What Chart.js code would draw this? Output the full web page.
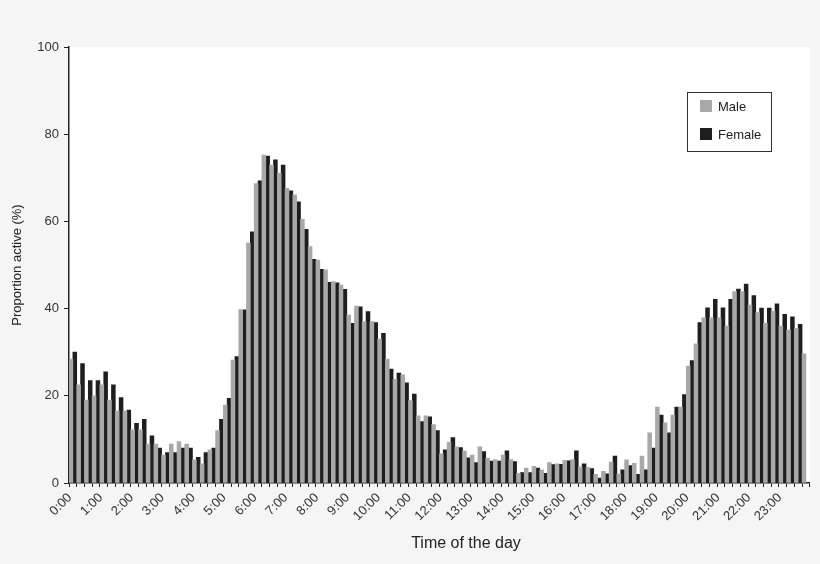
<!DOCTYPE html>
<html>
<head>
<meta charset="utf-8">
<script src="https://cdn.jsdelivr.net/npm/chart.js@4.4.1/dist/chart.umd.min.js"></script>
<style>
  html, body { margin: 0; padding: 0; background: #f5f5f5; }
  canvas { display: block; }
</style>
</head>
<body>
<canvas id="chart" width="820" height="564"></canvas>
<script>
// ─── DATA ───
const HOURS = ['0:00', '1:00', '2:00', '3:00', '4:00', '5:00', '6:00', '7:00', '8:00', '9:00', '10:00', '11:00',
  '12:00', '13:00', '14:00', '15:00', '16:00', '17:00', '18:00', '19:00', '20:00', '21:00', '22:00', '23:00'];
const QUARTERS = ['00', '15', '30', '45'];

// one slot per quarter hour
const SLOTS = HOURS.flatMap(h => QUARTERS.map(q => h.replace(':00', ':' + q)));

const MALE = [
  28.4, 22.5, 19.0, 20.0, 22.5, 19.0, 16.5, 16.5, 12.2, 12.2, 8.9, 8.9,
  6.4, 8.9, 9.5, 8.9, 5.3, 4.4, 7.6, 12.0, 17.9, 28.2, 39.8, 55.0,
  68.7, 75.2, 72.9, 71.0, 67.6, 66.1, 60.5, 54.2, 51.1, 48.9, 46.2, 45.4,
  38.5, 40.6, 37.0, 37.0, 33.0, 28.4, 23.8, 24.8, 18.9, 15.4, 15.4, 13.4,
  6.7, 9.3, 8.3, 7.3, 6.4, 8.3, 5.7, 5.4, 6.4, 5.4, 2.2, 3.4,
  3.8, 3.0, 4.7, 4.4, 5.2, 5.4, 3.7, 3.6, 2.0, 2.7, 4.8, 2.1,
  5.3, 4.5, 6.2, 11.5, 17.4, 13.8, 15.6, 17.4, 26.8, 31.9, 37.9, 37.9,
  37.9, 36.0, 43.9, 43.9, 40.8, 39.1, 36.6, 39.4, 36.0, 35.1, 35.5, 29.6,
];
const FEMALE = [
  30.0, 27.4, 23.5, 23.5, 25.5, 22.5, 19.6, 16.7, 13.7, 14.6, 10.8, 8.0,
  7.0, 7.0, 8.0, 8.0, 5.9, 7.0, 8.0, 14.6, 19.4, 29.0, 39.7, 57.6,
  69.3, 75.0, 74.1, 72.9, 67.0, 64.5, 58.2, 51.3, 49.0, 46.0, 45.9, 44.4,
  36.6, 40.4, 39.3, 36.8, 34.3, 26.1, 25.2, 23.0, 20.4, 14.1, 15.2, 12.0,
  7.6, 10.4, 8.1, 5.8, 4.7, 7.2, 5.0, 5.0, 7.4, 4.9, 2.4, 2.4,
  3.4, 2.2, 4.2, 4.3, 5.1, 7.4, 4.4, 3.3, 1.1, 2.1, 6.2, 3.0,
  4.0, 2.0, 3.0, 8.0, 15.6, 11.5, 17.4, 20.3, 28.1, 36.8, 40.2, 42.1,
  40.2, 42.1, 44.5, 45.6, 43.0, 40.1, 40.1, 41.1, 38.7, 38.1, 36.4, null, // last bar cut off in the figure
];

const FONT = "'Liberation Sans', Arial, Helvetica, sans-serif";
const TEXT = '#333';
const AXIS = '#222';

// white plot area on the light grey page
const plotBackground = {
  id: 'plotBackground',
  beforeDraw(chart) {
    const { ctx, chartArea: a } = chart;
    ctx.save();
    ctx.fillStyle = '#f5f5f5';
    ctx.fillRect(0, 0, chart.width, chart.height);
    ctx.fillStyle = '#ffffff';
    ctx.fillRect(a.left, a.top, a.right - a.left, a.bottom - a.top);
    ctx.restore();
  },
};

// boxed legend inside the plot (top right) + x title, which sits right of centre
const boxLegend = {
  id: 'boxLegend',
  afterDraw(chart) {
    const { ctx } = chart;
    ctx.save();
    ctx.fillStyle = '#fff';
    ctx.fillRect(687, 92, 84, 59);
    ctx.strokeStyle = '#333';
    ctx.lineWidth = 1;
    ctx.strokeRect(687.5, 92.5, 84, 59);
    ctx.font = `13px ${FONT}`;
    ctx.textBaseline = 'middle';
    chart.data.datasets.forEach((ds, i) => {
      const y = 106 + i * 28;
      ctx.fillStyle = ds.backgroundColor;
      ctx.fillRect(700, y - 6, 12, 12);
      ctx.fillStyle = '#222';
      ctx.fillText(ds.label, 718, y + 1);
    });

    ctx.font = `16px ${FONT}`;
    ctx.textAlign = 'center';
    ctx.fillStyle = '#222';
    ctx.fillText('Time of the day', 466, 544);
    ctx.restore();
  },
};

const ctx = document.getElementById('chart').getContext('2d');
new Chart(ctx, {
  type: 'bar',
  data: {
    labels: SLOTS,
    datasets: [
      { label: 'Male', data: MALE, backgroundColor: '#a8a8a8', categoryPercentage: 1, barPercentage: 1 },
      { label: 'Female', data: FEMALE, backgroundColor: '#1e1e1e', categoryPercentage: 1, barPercentage: 1 },
    ],
  },
  options: {
    responsive: false,
    animation: false,
    devicePixelRatio: 1,
    layout: { padding: { top: 47, right: 10, left: 0, bottom: 0 } },
    plugins: { legend: { display: false }, tooltip: { enabled: false } },
    scales: {
      x: {
        afterFit: s => { s.height = 81; },
        grid: { drawOnChartArea: false, drawTicks: true, tickLength: 4, color: AXIS, lineWidth: 1 },
        border: { color: AXIS, width: 1.5 },
        ticks: {
          autoSkip: false, minRotation: 45, maxRotation: 45, padding: 3, labelOffset: -3,
          color: TEXT, font: { family: FONT, size: 13 },
          callback: (v, i) => (i % 4 === 0 ? HOURS[i / 4] : ''),
        },
      },
      y: {
        min: 0, max: 100,
        afterFit: s => { s.width = 69; },
        grid: { drawOnChartArea: false, drawTicks: true, tickLength: 5, color: AXIS },
        border: { color: AXIS, width: 1.5 },
        ticks: { stepSize: 20, padding: 5, color: TEXT, font: { family: FONT, size: 13 } },
        title: { display: true, text: 'Proportion active (%)', color: '#222', font: { family: FONT, size: 13 }, padding: { top: 10 } },
      },
    },
  },
  plugins: [plotBackground, boxLegend],
});
</script>
</body>
</html>
